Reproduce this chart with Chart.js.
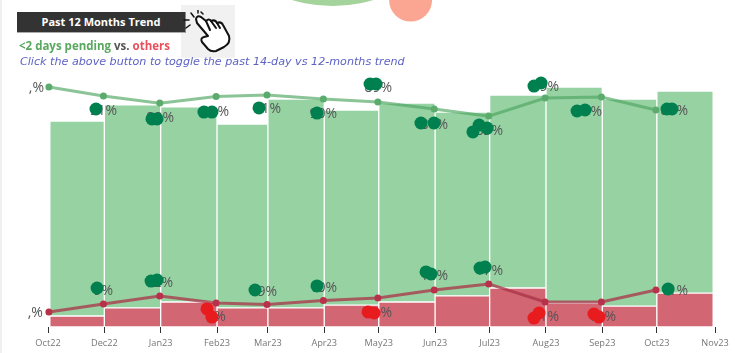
<!DOCTYPE html>
<html>
<head>
<meta charset="utf-8">
<script src="https://cdn.jsdelivr.net/npm/chart.js@4"></script>
<style>
  body { margin: 0; background: #fff; overflow: hidden; }
  #wrap { position: relative; width: 735px; height: 353px; }
  #wrap div, #hand { position: absolute; }
  #trend-chart { position: absolute; left: 0; top: 0; }
  #edge { left: 0; top: 0; width: 2px; height: 353px; background: #f0f0f0; }
  #button { left: 17px; top: 12px; width: 168px; height: 20px; background: #333; border-bottom: 1px solid #aaa; border-right: 1px solid #888;
    color: #fff; font: bold 11px/20px "Open Sans", sans-serif; text-align: center; }
  #handbox { left: 181px; top: 5px; width: 54px; height: 53px; background: #f1f1f1; }
  #hand { left: 183px; top: 10px; }
  #sub { left: 19px; top: 37px; font: bold 11.5px/18px "Open Sans", sans-serif; color: #555; white-space: nowrap; }
  #sub .g { color: #59a85f; }
  #sub .r { color: #e8505b; }
  #hint { left: 20px; top: 54px; font: italic 11.15px/16px "DejaVu Sans", sans-serif; color: #5c62c4; white-space: nowrap; }
</style>
</head>
<body>
<div id="wrap">
  <canvas id="trend-chart" width="735" height="353"></canvas>
  <div id="edge"></div>
  <div id="handbox"></div>
  <div id="button">Past 12 Months Trend</div>
  <svg id="hand" width="50" height="44" viewBox="0 0 50 44" fill="none" stroke="#111" stroke-width="2" stroke-linecap="round" stroke-linejoin="round">
    <path d="M14 13 L25 26 L21 27 Q17 28 19 32 L25 39 Q28 42 33 41 L41 37 Q48 33 46 26 L40 15 Q38 11 34 13 Q32 9 28 11 Q26 8 23 11 L18 7 Q14 5 13 9 Z" fill="#fff"/>
    <path d="M27 20 L23 11 M33 18 L28 11 M37 18 L34 13"/>
    <path d="M8 3 L11 7 M15 0 L15 3 M1 10 L6 10 M3 18 L7 15 M20 4 L18 2" stroke-width="1.5"/>
  </svg>
  <div id="sub"><span class="g">&lt;2 days pending</span> vs. <span class="r">others</span></div>
  <div id="hint">Click the above button to toggle the past 14-day vs 12-months trend</div>
</div>

<script>
// days since 1 Nov 2022, one edge per month
const monthEdges = [0, 30, 61, 92, 120, 151, 181, 212, 242, 273, 304, 334, 365];
const tickDays = [-1, 30, 61, 92, 120, 151, 181, 212, 242, 273, 304, 334, 366];
const tickLabels = ['Oct22', 'Dec22', 'Jan23', 'Feb23', 'Mar23', 'Apr23', 'May23', 'Jun23', 'Jul23', 'Aug23', 'Sep23', 'Oct23', 'Nov23'];

const barOthers = [4.3, 7.5, 9.8, 7.5, 7.5, 8.6, 9.8, 12.2, 15.3, 9.4, 8.2, 13.3];
const barPending = [76.5, 79.6, 76.5, 72.1, 81.9, 76.5, 78, 72.1, 75.7, 84.7, 81.2, 79.2];

const trendDays = [-0.5, 29.5, 60.5, 91.5, 119.5, 150.5, 180.5, 211.5, 241.5, 272.5, 303.5, 333.5];
const trendPending = [94.1, 90.6, 87.8, 90.4, 91, 89.4, 88.2, 85.5, 82.7, 89.8, 90.2, 85.1];
const trendOthers = [5.9, 9, 12.2, 9.4, 8.8, 10.4, 11.4, 14.5, 16.9, 9.8, 9.8, 14.5];

// the % labels, right aligned on these spots
const pendingText = [',%', '91%', '88%', '91%', '91%', '90%', '89%', '86%', '83%', '89%', '89%', '86%'];
const pendingTextDays = [-3.2, 37, 68.3, 98.6, 127.2, 158, 188.3, 219.1, 249.4, 280.2, 303.8, 351.2];
const pendingTextLevels = [93.7, 84.7, 82, 84.3, 85.5, 83.5, 93.7, 79.2, 76.9, 94.1, 84.3, 84.7];
const othersText = [',%', '9%', '12%', '9%', '9%', '10%', '11%', '14%', '17%', '11%', '11%', '11%'];
const othersTextDays = [-3.8, 34.8, 67.8, 96.9, 125, 158, 188.3, 219.1, 249.4, 280.2, 311.5, 351.2];
const othersTextLevels = [5.5, 14.1, 17.3, 3.9, 13.7, 15.3, 5.5, 20, 22, 3.9, 3.9, 14.1];

// dark green and red blobs sitting over the labels
const greenBlobDays = [25.4, 56.2, 59, 84.8, 89.2, 115.1, 147, 176.2, 179.5, 204.2, 211.4, 232.8, 236.2, 240.6, 266.4, 270.3, 290.1, 294.5, 339.6, 342.3,
  26, 55.7, 59, 112.9, 147, 207, 209.7, 236.7, 239.5, 340.2];
const greenBlobLevels = [85.5, 81.6, 81.6, 84.3, 84.3, 85.9, 83.9, 95.3, 95.3, 80, 80, 76.5, 79.2, 78, 94.5, 95.7, 84.7, 85.1, 85.5, 85.5,
  15.3, 18, 18.4, 14.5, 16.1, 21.6, 20.8, 23.1, 23.5, 14.9];
const redBlobDays = [86.5, 89.2, 175.1, 178.4, 266.4, 269.2, 299.4, 302.2];
const redBlobLevels = [7.1, 3.9, 5.9, 5.5, 3.5, 5.5, 5.1, 3.9];

// the two big circles cut off by the top of the page
const topCircleDays = [155.6, 198.5];
const topCircleLevels = [182, 128.2];
const topCircleSizes = [143, 21.5];

const levelMax = 128.24; // top of the canvas, 100 sits at y=72

const toPoints = (xs, ys) => xs.map((x, i) => ({ x, y: ys[i] }));
const midMonths = monthEdges.slice(0, -1).map((d, i) => (d + monthEdges[i + 1]) / 2);

// months are not equally long, so snap each bar to its month edges
const monthBars = {
  id: 'monthBars',
  afterDatasetsUpdate(chart) {
    const x = chart.scales.x;
    chart.data.datasets.forEach((ds, n) => {
      if (ds.type !== 'bar') return;
      chart.getDatasetMeta(n).data.forEach((bar, i) => {
        const left = x.getPixelForValue(monthEdges[i]);
        const right = x.getPixelForValue(monthEdges[i + 1]);
        bar.x = (left + right) / 2;
        bar.width = right - left;
      });
    });
  }
};

// labels go right after the trend lines so the blobs cover them
const percentLabels = {
  id: 'percentLabels',
  afterDatasetDraw(chart, args) {
    const label = chart.data.datasets[args.index].label;
    if (label !== 'others trend') return;
    const { ctx, scales } = chart;
    ctx.save();
    ctx.font = '14px "Open Sans", sans-serif';
    ctx.fillStyle = '#555';
    ctx.textAlign = 'right';
    ctx.textBaseline = 'middle';
    const put = (texts, days, levels) => texts.forEach((t, i) => {
      ctx.fillText(t, scales.x.getPixelForValue(days[i]), scales.y1.getPixelForValue(levels[i]));
    });
    put(pendingText, pendingTextDays, pendingTextLevels);
    put(othersText, othersTextDays, othersTextLevels);
    ctx.restore();
  }
};

const ctx = document.getElementById('trend-chart');

new Chart(ctx, {
  data: {
    datasets: [
      {
        type: 'scatter', label: 'top circles', order: 6, yAxisID: 'y1', clip: false,
        data: toPoints(topCircleDays, topCircleLevels),
        pointRadius: topCircleSizes, pointBackgroundColor: ['#a4d49c', '#fba593'], pointBorderWidth: 0
      },
      {
        type: 'bar', label: 'others', order: 5, yAxisID: 'y', barThickness: 'flex',
        data: toPoints(midMonths, barOthers),
        backgroundColor: '#d26673', borderColor: '#fff', borderWidth: 1, borderSkipped: false
      },
      {
        type: 'bar', label: '<2 days pending', order: 5, yAxisID: 'y', barThickness: 'flex',
        data: toPoints(midMonths, barPending),
        backgroundColor: '#97d2a3', borderColor: '#fff', borderWidth: 1, borderSkipped: false
      },
      {
        type: 'line', label: 'pending trend', order: 4, yAxisID: 'y1', clip: false,
        data: toPoints(trendDays, trendPending),
        borderColor: 'rgba(75,165,95,0.65)', borderWidth: 3, tension: 0,
        pointRadius: 3.5, pointBackgroundColor: '#5aab6c', pointBorderWidth: 0
      },
      {
        type: 'line', label: 'others trend', order: 3, yAxisID: 'y1', clip: false,
        data: toPoints(trendDays, trendOthers),
        borderColor: 'rgba(170,50,70,0.75)', borderWidth: 3, tension: 0,
        pointRadius: 3.5, pointBackgroundColor: '#b9304a', pointBorderWidth: 0
      },
      {
        type: 'scatter', label: 'green blobs', order: 2, yAxisID: 'y1', clip: false,
        data: toPoints(greenBlobDays, greenBlobLevels),
        pointRadius: 6.5, pointBackgroundColor: '#00804f', pointBorderWidth: 0
      },
      {
        type: 'scatter', label: 'red blobs', order: 1, yAxisID: 'y1', clip: false,
        data: toPoints(redBlobDays, redBlobLevels),
        pointRadius: 6.5, pointBackgroundColor: '#e81c1f', pointBorderWidth: 0
      }
    ]
  },
  plugins: [monthBars, percentLabels],
  options: {
    responsive: false,
    animation: false,
    events: [],
    layout: { autoPadding: false, padding: { left: 48, right: 20, top: 0, bottom: 0 } },
    scales: {
      x: {
        type: 'linear', min: -1, max: 366, stacked: true,
        offset: false, // bars switch this on by default, it squeezes the axis
        afterBuildTicks: (axis) => { axis.ticks = tickDays.map(value => ({ value })); },
        afterFit: (axis) => { axis.height = 26; axis.paddingLeft = 0; axis.paddingRight = 0; },
        grid: { drawOnChartArea: false, offset: false, tickLength: 6, tickColor: '#333', tickWidth: 1 },
        border: { display: false },
        ticks: {
          autoSkip: false, maxRotation: 0, padding: 5, color: '#777',
          font: { family: '"Open Sans", sans-serif', size: 9.2 },
          callback: (value, i) => tickLabels[i]
        }
      },
      y: { display: false, stacked: true, min: 0, max: levelMax },
      y1: { display: false, min: 0, max: levelMax }
    },
    plugins: { legend: { display: false }, tooltip: { enabled: false } }
  }
});
</script>
</body>
</html>
